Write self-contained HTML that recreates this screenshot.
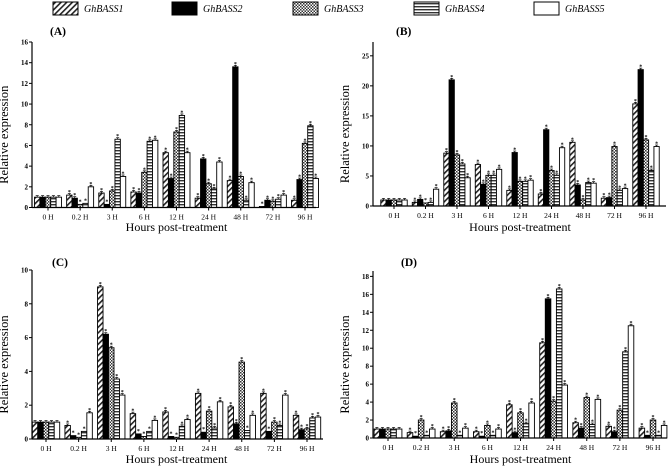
<!DOCTYPE html>
<html><head><meta charset="utf-8"><style>
body{margin:0;background:#fff}
svg{display:block;font-family:"Liberation Serif",serif}
</style></head><body>
<svg id="c" width="668" height="468" viewBox="0 0 668 468">
<defs>
<pattern id="p0" width="4" height="4" patternUnits="userSpaceOnUse" patternTransform="rotate(45)"><rect width="4" height="4" fill="#fff"/><rect width="1.6" height="4" fill="#222"/></pattern>
<pattern id="p2" width="3" height="3" patternUnits="userSpaceOnUse"><rect width="3" height="3" fill="#fff"/><rect width="1.5" height="1.5" fill="#333"/><rect x="1.5" y="1.5" width="1.5" height="1.5" fill="#333"/></pattern>
<pattern id="p3" width="3" height="3" patternUnits="userSpaceOnUse"><rect width="3" height="3" fill="#fff"/><rect width="3" height="1.4" fill="#333"/></pattern>
</defs>
</svg>
<script>
const groups=["0 H","0.2 H","3 H","6 H","12 H","24 H","48 H","72 H","96 H"];
const seriesNames=["GhBASS1","GhBASS2","GhBASS3","GhBASS4","GhBASS5"];
const A1=[1,1.2,1.4,1.5,5.3,0.9,2.6,0.1,0.7];
const A2=[1,0.9,0.3,1.4,2.8,4.7,13.6,0.7,2.7];
const A3=[1,0.3,1.6,3.4,7.3,2.3,3.0,0.6,6.2];
const A4=[1,0.4,6.6,6.4,8.9,1.8,0.7,0.8,7.9];
const A5=[1,2.0,3.0,6.5,5.3,4.4,2.4,1.2,2.8];
const B1=[1,0.6,8.8,6.9,2.6,2.0,10.6,1.3,17.0];
const B2=[1,1.1,21.0,3.6,8.9,12.7,3.5,1.4,22.7];
const B3=[1,0.5,8.5,5.1,4.1,5.9,1.0,9.9,11.0];
const B4=[1,0.6,7.0,5.1,4.1,5.1,3.9,2.6,5.9];
const B5=[1,2.8,4.7,6.1,4.3,9.7,3.8,2.9,9.9];
const C1=[1,0.8,9.0,1.5,1.6,2.7,1.9,2.7,1.4];
const C2=[1,0.2,6.2,0.3,0.15,0.4,0.9,0.45,0.55];
const C3=[1,0.1,5.4,0.15,0.1,1.65,4.55,1.0,0.6];
const C4=[1,0.45,3.55,0.45,0.75,0.65,0.5,0.8,1.25];
const C5=[1,1.55,2.6,1.1,1.15,2.2,1.4,2.6,1.3];
const D1=[1,0.6,0.7,0.7,3.7,10.6,1.7,1.3,1.1];
const D2=[1,0.2,0.8,0.2,0.6,15.5,1.1,0.7,0.3];
const D3=[1,2.0,3.9,1.4,2.8,4.1,4.5,3.1,2.0];
const D4=[1,0.3,0.3,0.3,1.6,16.6,1.5,9.6,0.3];
const D5=[1,1.0,1.1,1.0,3.9,5.9,4.3,12.5,1.4];
const ticksA=[0,2,4,6,8,10,12,14,16];
const ticksB=[0,5,10,15,20,25];
const ticksC=[0,2,4,6,8,10];
const ticksD=[0,2,4,6,8,10,12,14,16,18];
const fills=["url(#p0)","#000","url(#p2)","url(#p3)","#fff"];
const NS="http://www.w3.org/2000/svg";
const svg=document.getElementById("c");
function el(t,a,p){const e=document.createElementNS(NS,t);for(const k in a)e.setAttribute(k,a[k]);(p||svg).appendChild(e);return e;}
function txt(s,a,p){const e=el("text",a,p);e.textContent=s;return e;}

const legX=[53,172,293,414,534];
seriesNames.forEach((n,i)=>{
  const g=el("g",{});
  
  
  el("rect",{x:legX[i],y:2,width:25,height:13,fill:fills[i],stroke:"#000","stroke-width":1},g);
  txt(n,{x:legX[i]+31,y:12,"font-size":10,"font-style":"italic"},g);
});

const panels=[
 {id:"A",data:[A1,A2,A3,A4,A5],ticks:ticksA,ax:32,x0:48,x9:305,xr:316,y0:207.5,ytop:42,vmax:16,lx:50,ly:35,ty:231},
 {id:"B",data:[B1,B2,B3,B4,B5],ticks:ticksB,ax:373,x0:394,x9:646,xr:666,y0:206,ytop:42,vmax:27.3,lx:396,ly:35,ty:231},
 {id:"C",data:[C1,C2,C3,C4,C5],ticks:ticksC,ax:32,x0:46,x9:307,xr:323,y0:439,ytop:270,vmax:10,lx:52,ly:266,ty:463},
 {id:"D",data:[D1,D2,D3,D4,D5],ticks:ticksD,ax:373,x0:388,x9:653,xr:667,y0:438,ytop:271,vmax:18.6,lx:401,ly:266,ty:463}
];
panels.forEach(P=>{
  const g=el("g",{});
  
  
  const ys=v=>P.y0-(v/P.vmax)*(P.y0-P.ytop);
  const sp=(P.x9-P.x0)/8, bw=sp*0.168;
  const xs=i=>P.x0+i*sp;
  P.data.forEach((ser,s)=>{
    ser.forEach((v,i)=>{
      const x=xs(i)+(s-2.5)*bw, y=ys(v);
      const r=el("rect",{x:x,y:y,width:bw,height:P.y0-y,fill:fills[s],stroke:"#000","stroke-width":0.9},g);
      
      
      const cx=x+bw/2;
      if(v>0.5){el("line",{x1:cx-1.5,x2:cx+1.5,y1:y-1.5,y2:y-1.5,stroke:"#000","stroke-width":0.7},g);
      el("line",{x1:cx,x2:cx,y1:y-1.5,y2:y,stroke:"#000","stroke-width":0.7},g);}
      if(i>0)txt("*",{x:cx,y:y-1,"font-size":6,"font-weight":"bold","text-anchor":"middle"},g);
    });
  });
  el("line",{x1:P.ax,x2:P.ax,y1:P.y0,y2:P.ytop,stroke:"#000","stroke-width":1.2},g);
  el("line",{x1:P.ax,x2:P.xr,y1:P.y0,y2:P.y0,stroke:"#000","stroke-width":1.2},g);
  P.ticks.forEach(t=>{
    const y=ys(t);
    el("line",{x1:P.ax-3,x2:P.ax,y1:y,y2:y,stroke:"#000","stroke-width":1},g);
    txt(String(t),{x:P.ax-4,y:y+2.5,"font-size":7,"font-weight":"bold","text-anchor":"end"},g);
  });
  groups.forEach((n,i)=>{
    el("line",{x1:xs(i),x2:xs(i),y1:P.y0,y2:P.y0+3,stroke:"#000","stroke-width":1},g);
    txt(n,{x:xs(i),y:P.y0+12,"font-size":7.5,"text-anchor":"middle"},g);
  });
  txt("Hours post-treatment",{x:(P.x0+P.x9)/2,y:P.ty,"font-size":12,"text-anchor":"middle"},g);
  const ym=(P.y0+P.ytop)/2+10, yl=P.ax-24;
  txt("Relative expression",{x:yl,y:ym,"font-size":12.5,"text-anchor":"middle",transform:`rotate(-90 ${yl} ${ym})`},g);
  txt("("+P.id+")",{x:P.lx,y:P.ly,"font-size":11.5,"font-weight":"bold"},g);
});
</script>
</body></html>
